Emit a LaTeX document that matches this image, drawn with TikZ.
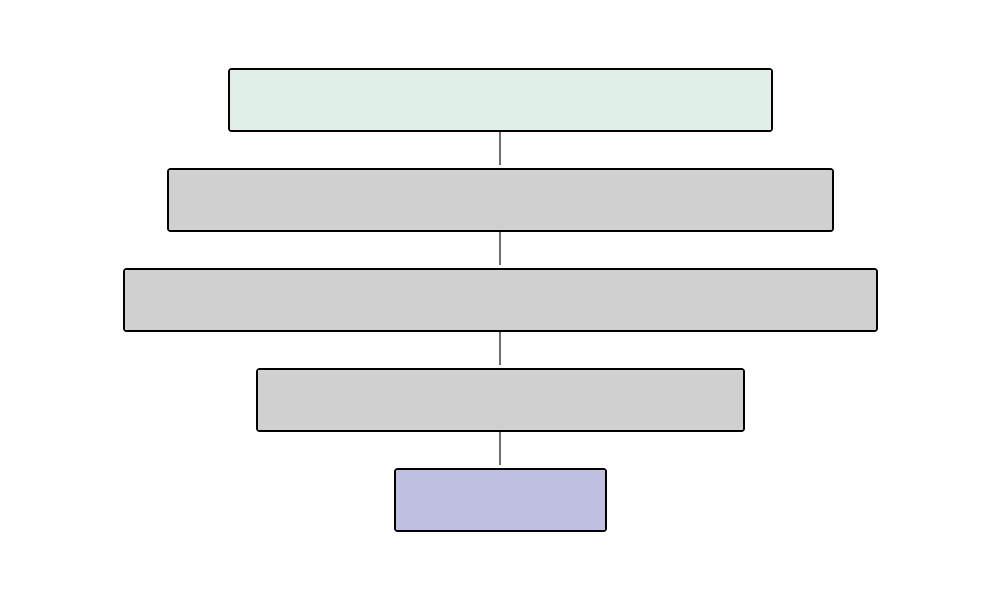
\documentclass[tikz,border=0pt]{standalone}
\begin{document}
\definecolor{topfill}{HTML}{E0EFE8}
\definecolor{midfill}{HTML}{D0D0D0}
\definecolor{endfill}{HTML}{C0C0E0}
\definecolor{linkgray}{HTML}{707070}
\begin{tikzpicture}[x=1pt,y=-1pt,
  layer/.style={draw=black,line width=1.6pt,rounded corners=2pt,inner sep=0pt,minimum height=62pt},
  link/.style={draw=linkgray,line width=2pt,shorten >=3pt}]
\useasboundingbox (0,0) rectangle (1000,600);
\node[layer,fill=topfill,minimum width=543pt] (l1) at (500.5,100) {};
\node[layer,fill=midfill,minimum width=665pt] (l2) at (500.5,200) {};
\node[layer,fill=midfill,minimum width=753pt] (l3) at (500.5,300) {};
\node[layer,fill=midfill,minimum width=487pt] (l4) at (500.5,400) {};
\node[layer,fill=endfill,minimum width=211pt] (l5) at (500.5,500) {};
\draw[link] ([xshift=-0.5pt]l1.south) -- ([xshift=-0.5pt]l2.north);
\draw[link] ([xshift=-0.5pt]l2.south) -- ([xshift=-0.5pt]l3.north);
\draw[link] ([xshift=-0.5pt]l3.south) -- ([xshift=-0.5pt]l4.north);
\draw[link] ([xshift=-0.5pt]l4.south) -- ([xshift=-0.5pt]l5.north);
\end{tikzpicture}
\end{document}
